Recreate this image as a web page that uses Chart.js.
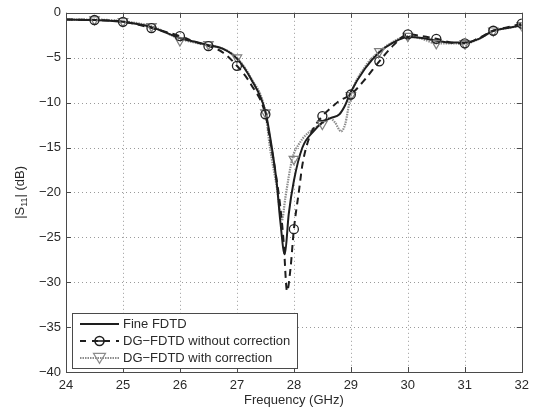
<!DOCTYPE html>
<html>
<head>
<meta charset="utf-8">
<script src="https://cdn.jsdelivr.net/npm/chart.js@4/dist/chart.umd.min.js"></script>
<style>
html,body{margin:0;padding:0;background:#fff;}
canvas{display:block;}
</style>
</head>
<body>
<canvas id="c" width="535" height="412"></canvas>
<script>
// ---- data ----
const xTicks = [24, 25, 26, 27, 28, 29, 30, 31, 32];
const yTicks = [0, -5, -10, -15, -20, -25, -30, -35, -40];

const fineFreq = [24, 24.5, 25, 25.5, 26, 26.25, 26.5, 26.75, 27, 27.25, 27.5, 27.6, 27.7, 27.76, 27.84, 27.91, 28.0, 28.15, 28.36, 28.5, 28.65, 28.8, 28.9, 29.0, 29.25, 29.5, 29.75, 30, 30.25, 30.5, 30.75, 31, 31.25, 31.5, 31.75, 32];
const fineDb   = [-0.75, -0.8, -1.0, -1.6, -2.8, -3.2, -3.6, -4.0, -5.1, -7.4, -11.0, -14.5, -19.0, -23.1, -26.9, -22.4, -18.7, -15.0, -13.1, -12.2, -11.7, -11.3, -10.3, -8.8, -6.2, -4.4, -3.3, -2.7, -2.8, -3.1, -3.3, -3.3, -2.9, -2.0, -1.7, -1.4];

const noCorFreq = [24, 24.5, 25, 25.5, 26, 26.25, 26.5, 26.75, 27, 27.25, 27.5, 27.6, 27.7, 27.76, 27.82, 27.88, 27.94, 28.0, 28.09, 28.15, 28.27, 28.4, 28.5, 28.65, 28.8, 29.0, 29.25, 29.5, 29.75, 30, 30.25, 30.5, 30.75, 31, 31.25, 31.5, 31.75, 32];
const noCorDb   = [-0.75, -0.8, -1.0, -1.7, -2.6, -3.2, -3.7, -4.4, -5.9, -8.0, -11.3, -14.8, -18.7, -21.5, -25.5, -31.0, -28.5, -24.1, -19.8, -16.9, -13.9, -12.3, -11.5, -10.6, -9.8, -9.1, -7.4, -5.4, -3.6, -2.4, -2.6, -2.9, -3.3, -3.4, -2.8, -2.0, -1.6, -1.2];

const corFreq = [24, 24.5, 25, 25.5, 26, 26.25, 26.5, 26.75, 27, 27.25, 27.5, 27.58, 27.7, 27.79, 27.85, 27.97, 28.09, 28.3, 28.48, 28.63, 28.72, 28.83, 28.9, 29.0, 29.25, 29.5, 29.75, 30, 30.25, 30.5, 30.75, 31, 31.25, 31.5, 31.75, 32];
const corDb   = [-0.75, -0.75, -0.95, -1.5, -2.9, -3.3, -3.6, -4.0, -5.0, -7.3, -11.1, -15.0, -19.4, -23.1, -20.6, -16.3, -14.6, -13.1, -12.4, -11.7, -12.2, -13.2, -12.4, -9.2, -6.0, -4.3, -3.2, -2.6, -2.9, -3.4, -3.4, -3.4, -2.9, -2.0, -1.7, -1.4];

const circleFreq = [24.5, 25, 25.5, 26, 26.5, 27, 27.5, 28, 28.5, 29, 29.5, 30, 30.5, 31, 31.5, 32];
const circleDb   = [-0.8, -1.0, -1.7, -2.6, -3.7, -5.9, -11.3, -24.1, -11.5, -9.1, -5.4, -2.4, -2.9, -3.4, -2.0, -1.2];

const triFreq = [24.5, 25, 25.5, 26, 26.5, 27, 27.5, 28, 28.5, 29, 29.5, 30, 30.5, 31, 31.5, 32];
const triDb   = [-0.75, -0.95, -1.5, -3.1, -3.5, -5.0, -11.1, -16.3, -12.4, -9.2, -4.3, -2.6, -3.4, -3.4, -2.0, -1.4];

const seriesNames = ['Fine FDTD', 'DG\u2212FDTD without correction', 'DG\u2212FDTD with correction'];
const xTitle = 'Frequency (GHz)';

// ---- helpers ----
const pts = (xs, ys) => xs.map((x, i) => ({x: x, y: ys[i]}));
const FONT = '"Liberation Sans", Arial, Helvetica, sans-serif';
const fmt = v => (v < 0 ? '\u2212' + Math.abs(v) : String(v));

const FINE_COLOR = '#1e1e1e';
const NOCOR_COLOR = '#1e1e1e';
const COR_COLOR = '#8c8c8c';

function drawTri(ctx, x, y, r) {
  ctx.beginPath();
  ctx.moveTo(x - r, y - r * 0.6);
  ctx.lineTo(x + r, y - r * 0.6);
  ctx.lineTo(x, y + r * 1.05);
  ctx.closePath();
  ctx.stroke();
}

const framePlugin = {
  id: 'frame',
  beforeDatasetsDraw(chart) {
    const ctx = chart.ctx;
    const a = chart.chartArea;
    const xs = chart.scales.x, ys = chart.scales.y;
    ctx.save();
    ctx.strokeStyle = '#9a9a9a';
    ctx.lineWidth = 1;
    ctx.setLineDash([1, 3]);
    ctx.beginPath();
    xTicks.forEach(v => {
      const px = Math.round(xs.getPixelForValue(v)) + 0.5;
      ctx.moveTo(px, a.top); ctx.lineTo(px, a.bottom);
    });
    yTicks.forEach(v => {
      const py = Math.round(ys.getPixelForValue(v)) + 0.5;
      ctx.moveTo(a.left, py); ctx.lineTo(a.right, py);
    });
    ctx.stroke();
    ctx.restore();
  },
  afterDraw(chart) {
    const ctx = chart.ctx;
    const a = chart.chartArea;
    const xs = chart.scales.x, ys = chart.scales.y;
    ctx.save();
    // frame
    ctx.strokeStyle = '#4a4a4a';
    ctx.lineWidth = 1;
    ctx.setLineDash([]);
    ctx.strokeRect(Math.round(a.left) + 0.5, Math.round(a.top) + 0.5, Math.round(a.right - a.left), Math.round(a.bottom - a.top));
    // inward ticks
    ctx.beginPath();
    xTicks.forEach(v => {
      const px = Math.round(xs.getPixelForValue(v)) + 0.5;
      ctx.moveTo(px, a.bottom); ctx.lineTo(px, a.bottom - 5);
      ctx.moveTo(px, a.top); ctx.lineTo(px, a.top + 5);
    });
    yTicks.forEach(v => {
      const py = Math.round(ys.getPixelForValue(v)) + 0.5;
      ctx.moveTo(a.left, py); ctx.lineTo(a.left + 5, py);
      ctx.moveTo(a.right, py); ctx.lineTo(a.right - 5, py);
    });
    ctx.stroke();

    // axis titles
    ctx.fillStyle = '#2a2a2a';
    ctx.font = '13px ' + FONT;
    ctx.textAlign = 'center';
    ctx.textBaseline = 'middle';
    ctx.fillText(xTitle, (a.left + a.right) / 2, 400);

    // y title with subscript
    ctx.save();
    ctx.translate(20, (a.top + a.bottom) / 2);
    ctx.rotate(-Math.PI / 2);
    ctx.textAlign = 'left';
    ctx.textBaseline = 'middle';
    const p1 = '|S', p2 = '11', p3 = '| (dB)';
    ctx.font = '13px ' + FONT;
    const w1 = ctx.measureText(p1).width;
    const w3 = ctx.measureText(p3).width;
    ctx.font = '9px ' + FONT;
    const w2 = ctx.measureText(p2).width;
    const total = w1 + w2 + w3;
    let x0 = -total / 2;
    ctx.font = '13px ' + FONT;
    ctx.fillText(p1, x0, 0);
    ctx.font = '9px ' + FONT;
    ctx.fillText(p2, x0 + w1, 5);
    ctx.font = '13px ' + FONT;
    ctx.fillText(p3, x0 + w1 + w2, 0);
    ctx.restore();

    // legend
    const bx = 72, by = 313, bw = 225, bh = 55;
    ctx.fillStyle = '#ffffff';
    ctx.fillRect(bx, by, bw, bh);
    ctx.strokeStyle = '#4a4a4a';
    ctx.lineWidth = 1;
    ctx.strokeRect(bx + 0.5, by + 0.5, bw, bh);
    const rows = [324, 341, 358];
    const lx0 = 80, lx1 = 119, mx = 99.5;
    ctx.strokeStyle = FINE_COLOR; ctx.lineWidth = 2; ctx.setLineDash([]);
    ctx.beginPath(); ctx.moveTo(lx0, rows[0]); ctx.lineTo(lx1, rows[0]); ctx.stroke();
    ctx.strokeStyle = NOCOR_COLOR; ctx.lineWidth = 2; ctx.setLineDash([6, 6]);
    ctx.beginPath(); ctx.moveTo(lx0, rows[1]); ctx.lineTo(lx1, rows[1]); ctx.stroke();
    ctx.setLineDash([]);
    ctx.lineWidth = 1.6;
    ctx.beginPath(); ctx.arc(mx, rows[1], 4.5, 0, Math.PI * 2); ctx.stroke();
    ctx.beginPath(); ctx.moveTo(mx - 4.5, rows[1]); ctx.lineTo(mx + 4.5, rows[1]); ctx.stroke();
    ctx.strokeStyle = COR_COLOR; ctx.lineWidth = 2.2; ctx.setLineDash([1.5, 1]);
    ctx.beginPath(); ctx.moveTo(lx0, rows[2]); ctx.lineTo(lx1, rows[2]); ctx.stroke();
    ctx.setLineDash([]); ctx.lineWidth = 1.2;
    drawTri(ctx, mx, rows[2] - 1, 6);
    ctx.fillStyle = '#2a2a2a';
    ctx.font = '13px ' + FONT;
    ctx.textAlign = 'left';
    ctx.textBaseline = 'middle';
    seriesNames.forEach((n, i) => ctx.fillText(n, 123, rows[i]));
    ctx.restore();
  }
};

new Chart(document.getElementById('c'), {
  type: 'line',
  data: {
    datasets: [
      { label: seriesNames[0], data: pts(fineFreq, fineDb), borderColor: FINE_COLOR, borderWidth: 2,
        pointRadius: 0, cubicInterpolationMode: 'monotone', fill: false, order: 1 },
      { label: seriesNames[1], data: pts(noCorFreq, noCorDb), borderColor: NOCOR_COLOR, borderWidth: 2,
        borderDash: [7, 5], pointRadius: 0, cubicInterpolationMode: 'monotone', fill: false, order: 2 },
      { label: seriesNames[2], data: pts(corFreq, corDb), borderColor: COR_COLOR, borderWidth: 2.2,
        borderDash: [1.5, 1], pointRadius: 0, cubicInterpolationMode: 'monotone', fill: false, order: 3 },
      { label: 'circles', data: pts(circleFreq, circleDb), showLine: false, pointStyle: 'circle',
        pointRadius: 4.5, pointBorderWidth: 1.3, pointBorderColor: '#222', pointBackgroundColor: 'rgba(0,0,0,0)', order: 0 },
      { label: 'triangles', data: pts(triFreq, triDb), showLine: false, pointStyle: 'triangle', pointRotation: 180,
        pointRadius: 5.5, pointBorderWidth: 1.2, pointBorderColor: '#808080', pointBackgroundColor: 'rgba(0,0,0,0)', order: 0 }
    ]
  },
  options: {
    responsive: false,
    animation: false,
    devicePixelRatio: 1,
    layout: { padding: { top: 12, right: 13, left: 0, bottom: 0 } },
    plugins: { legend: { display: false }, tooltip: { enabled: false } },
    scales: {
      x: {
        type: 'linear', min: 24, max: 32,
        afterBuildTicks: s => { s.ticks = xTicks.map(v => ({value: v})); },
        afterFit: s => { s.height = 40; },
        ticks: { callback: v => fmt(v), color: '#2a2a2a', font: { family: FONT, size: 13 }, padding: 6, maxRotation: 0, autoSkip: false },
        grid: { display: false, drawTicks: false },
        border: { display: false }
      },
      y: {
        type: 'linear', min: -40, max: 0,
        afterBuildTicks: s => { s.ticks = yTicks.map(v => ({value: v})); },
        afterFit: s => { s.width = 66; },
        ticks: { callback: v => fmt(v), color: '#2a2a2a', font: { family: FONT, size: 13 }, padding: 5, autoSkip: false },
        grid: { display: false, drawTicks: false },
        border: { display: false }
      }
    }
  },
  plugins: [framePlugin]
});
</script>
</body>
</html>
